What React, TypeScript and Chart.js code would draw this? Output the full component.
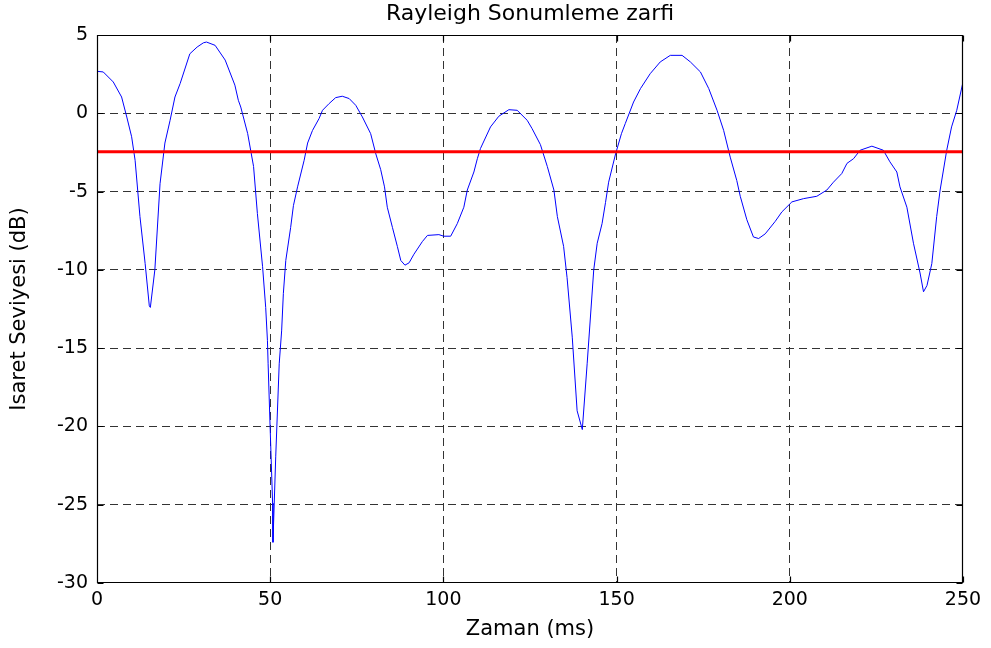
import React, { useEffect, useRef } from 'react';
import { Chart, registerables } from 'chart.js';

Chart.register(...registerables);

// ---- Data ----
const timeMs: number[] = [
  0, 1.8, 4.7, 7.1, 8.6, 10.0, 11.0, 12.4, 13.9, 15.1, 15.4, 16.7, 18.2, 19.6, 21.1, 22.5, 24.0, 26.8, 28.9, 30.7,
  31.6, 34.1, 37.0, 39.8, 40.8, 41.5, 43.5, 45.2, 46.3, 47.8, 48.7, 49.2, 49.4, 50.0, 50.7, 50.8, 51.6, 52.6, 53.3, 53.8,
  54.5, 55.9, 56.7, 57.9, 59.8, 60.8, 62.2, 64.1, 65.1, 67.0, 68.9, 70.8, 72.8, 74.7, 76.6, 79.0, 80.5, 81.9, 83.0, 83.8,
  85.3, 86.7, 87.7, 88.9, 90.1, 91.5, 93.9, 95.4, 98.7, 100.1, 102.1, 104.0, 105.9, 106.9, 108.8, 109.8, 110.7, 113.6, 116.0, 118.9,
  121.3, 124.2, 125.6, 128.0, 130.0, 131.9, 132.9, 134.7, 135.7, 137.2, 138.6, 140.1, 141.5, 143.4, 144.4, 145.8, 146.8, 147.7, 149.7, 151.4,
  152.5, 154.9, 156.9, 159.7, 162.6, 165.5, 168.9, 171.3, 174.2, 176.6, 179.0, 180.9, 182.8, 184.7, 185.7, 187.6, 189.5, 191.0, 192.9, 195.8,
  197.7, 200.6, 204.0, 207.8, 210.7, 212.6, 215.0, 216.5, 218.4, 220.3, 223.7, 227.0, 228.9, 230.9, 231.8, 233.8, 235.7, 237.6, 238.6, 239.6,
  241.0, 242.4, 243.4, 245.3, 246.7, 248.2, 250.0,
];

const levelDb: number[] = [
  2.68, 2.64, 2.0, 1.04, -0.24, -1.5, -3.0, -6.6, -9.6, -12.3, -12.4, -10.0, -4.5, -1.9, -0.45, 1.04, 1.9, 3.8, 4.23, 4.5,
  4.55, 4.34, 3.4, 1.8, 0.83, 0.4, -1.3, -3.4, -6.4, -9.8, -12.4, -14.5, -16.0, -20.2, -24.9, -27.4, -21.9, -16.0, -13.9, -11.5,
  -9.4, -7.3, -5.9, -4.7, -3.0, -1.9, -1.1, -0.34, 0.19, 0.62, 1.0, 1.09, 0.94, 0.51, -0.23, -1.3, -2.6, -3.6, -4.7, -6.0,
  -7.3, -8.5, -9.4, -9.7, -9.55, -9.0, -8.2, -7.8, -7.75, -7.85, -7.85, -7.05, -6.0, -4.9, -3.75, -2.9, -2.25, -0.87, -0.19, 0.23,
  0.19, -0.45, -0.98, -2.0, -3.4, -4.9, -6.6, -8.5, -10.5, -14.3, -19.0, -20.2, -16.0, -10.0, -8.3, -7.05, -5.7, -4.4, -2.6, -1.3,
  -0.66, 0.72, 1.58, 2.53, 3.28, 3.7, 3.7, 3.28, 2.64, 1.58, 0.19, -1.09, -2.8, -4.3, -5.3, -6.8, -7.9, -8.0, -7.7, -6.9,
  -6.3, -5.66, -5.45, -5.3, -4.9, -4.4, -3.85, -3.2, -2.9, -2.36, -2.1, -2.36, -3.1, -3.75, -4.7, -6.0, -8.3, -10.2, -11.4, -11.0,
  -9.6, -6.6, -4.9, -2.36, -0.87, 0.19, 2.0,
];

const thresholdTimeMs: number[] = [0, 250];
const thresholdDb: number[] = [-2.45, -2.45];

const xTickValues: number[] = [0, 50, 100, 150, 200, 250];
const yTickValues: number[] = [5, 0, -5, -10, -15, -20, -25, -30];

const chartTitle = 'Rayleigh Sonumleme zarfi';
const xAxisTitle = 'Zaman (ms)';
const yAxisTitle = 'Isaret Seviyesi (dB)';

const FONT = 'DejaVu Sans';
const GRID = '#333';

const boxPlugin = {
  id: 'matlabBox',
  afterDraw(chart: any) {
    const { ctx, chartArea } = chart;
    const xs = chart.scales.x;
    const ys = chart.scales.y;
    const L = Math.round(chartArea.left) + 0.5;
    const R = Math.round(chartArea.right) - 0.5;
    const T = Math.round(chartArea.top) + 0.5;
    const B = Math.round(chartArea.bottom) - 0.5;
    const tl = 6;
    ctx.save();
    ctx.strokeStyle = '#000';
    ctx.lineWidth = 1.2;
    ctx.setLineDash([]);
    ctx.beginPath();
    ctx.rect(L, T, R - L, B - T);
    xTickValues.forEach((v) => {
      const px = Math.round(xs.getPixelForValue(v)) + 0.5;
      ctx.moveTo(px, B);
      ctx.lineTo(px, B - tl);
      ctx.moveTo(px, T);
      ctx.lineTo(px, T + tl);
    });
    yTickValues.forEach((v) => {
      const py = Math.round(ys.getPixelForValue(v)) + 0.5;
      ctx.moveTo(L, py);
      ctx.lineTo(L + tl, py);
      ctx.moveTo(R, py);
      ctx.lineTo(R - tl, py);
    });
    ctx.stroke();
    ctx.restore();
  },
};

export default function App() {
  const canvasRef = useRef<HTMLCanvasElement | null>(null);

  useEffect(() => {
    if (!canvasRef.current) return;
    const signal = timeMs.map((t, i) => ({ x: t, y: levelDb[i] }));
    const threshold = thresholdTimeMs.map((t, i) => ({ x: t, y: thresholdDb[i] }));

    const xMin = xTickValues[0];
    const xMax = xTickValues[xTickValues.length - 1];
    const yMax = yTickValues[0];
    const yMin = yTickValues[yTickValues.length - 1];

    const chart = new Chart(canvasRef.current, {
      type: 'line',
      data: {
        datasets: [
          {
            data: threshold,
            borderColor: '#ff0000',
            borderWidth: 3,
            pointRadius: 0,
            order: 0,
          },
          {
            data: signal,
            borderColor: '#0000ff',
            borderWidth: 1,
            pointRadius: 0,
            tension: 0,
            order: 1,
          },
        ],
      },
      options: {
        animation: false,
        responsive: false,
        devicePixelRatio: 1,
        events: [],
        layout: { padding: { left: 0, right: 28, top: 0, bottom: 0 } },
        plugins: {
          legend: { display: false },
          tooltip: { enabled: false },
          title: {
            display: true,
            text: chartTitle,
            fullSize: false,
            color: '#000',
            font: { family: FONT, size: 22, weight: 'normal' },
            padding: { top: 1, bottom: 7.6 },
          },
        },
        scales: {
          x: {
            type: 'linear',
            min: xMin,
            max: xMax,
            afterBuildTicks: (s: any) => {
              s.ticks = xTickValues.map((v) => ({ value: v }));
            },
            afterFit: (s: any) => {
              s.height = 65;
            },
            ticks: {
              color: '#000',
              padding: 6,
              font: { family: FONT, size: 19 },
              maxRotation: 0,
            },
            grid: {
              color: (c: any) => (c.tick && (c.tick.value === xMin || c.tick.value === xMax) ? 'rgba(0,0,0,0)' : GRID),
              lineWidth: 1,
              drawTicks: false,
            },
            border: { display: false, dash: [8, 5] },
            title: {
              display: true,
              text: xAxisTitle,
              color: '#000',
              font: { family: FONT, size: 21 },
              padding: { top: 0, bottom: 6 },
            },
          },
          y: {
            type: 'linear',
            min: yMin,
            max: yMax,
            afterBuildTicks: (s: any) => {
              s.ticks = yTickValues.map((v) => ({ value: v }));
            },
            afterFit: (s: any) => {
              s.width = 97;
            },
            ticks: {
              color: '#000',
              padding: 9,
              font: { family: FONT, size: 19 },
            },
            grid: {
              color: (c: any) => (c.tick && (c.tick.value === yMin || c.tick.value === yMax) ? 'rgba(0,0,0,0)' : GRID),
              lineWidth: 1,
              drawTicks: false,
            },
            border: { display: false, dash: [8, 5] },
            title: {
              display: true,
              text: yAxisTitle,
              color: '#000',
              font: { family: FONT, size: 21 },
              padding: { top: 7, bottom: 0 },
            },
          },
        },
      },
      plugins: [boxPlugin],
    } as any);

    return () => chart.destroy();
  }, []);

  return (
    <div style={{ position: 'absolute', left: 0, top: 0, width: 991, height: 648, background: '#fff' }}>
      <canvas ref={canvasRef} width={991} height={648} style={{ display: 'block', width: 991, height: 648 }} />
    </div>
  );
}
